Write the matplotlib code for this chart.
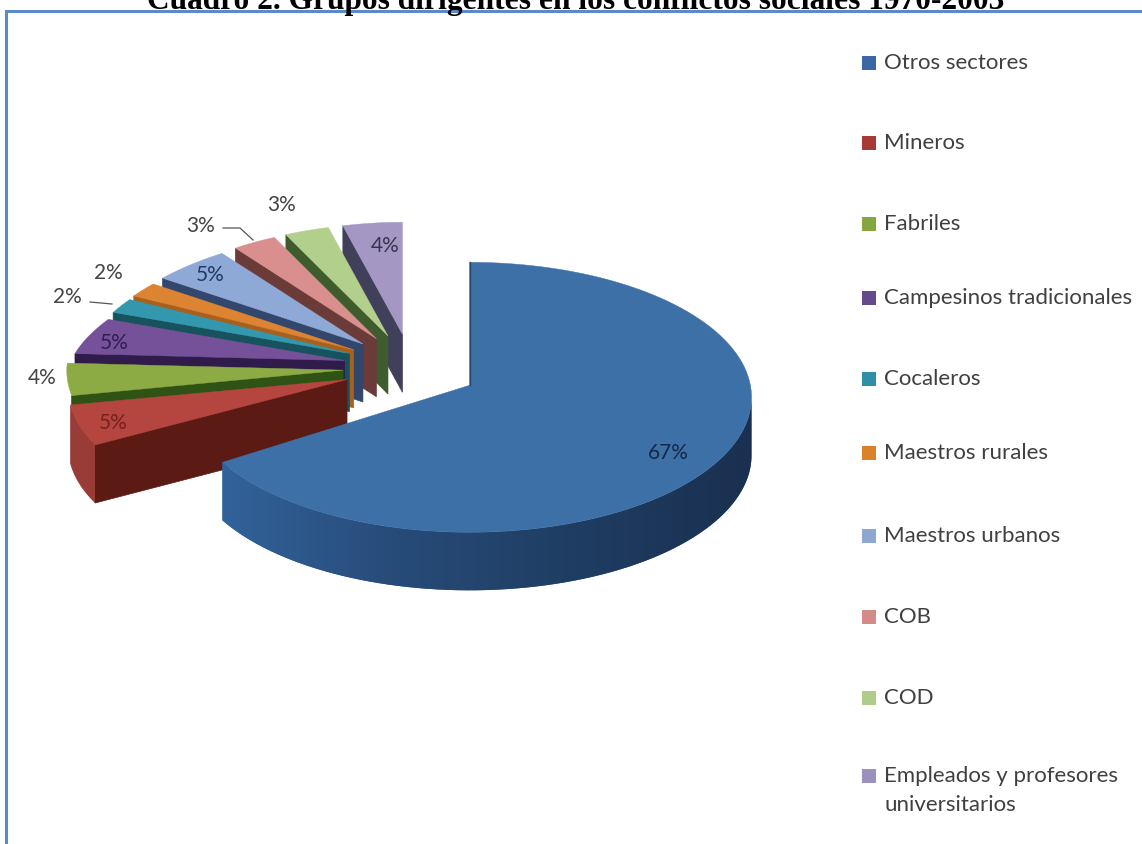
import numpy as np
import matplotlib
matplotlib.use('Agg')
import matplotlib.pyplot as plt
from matplotlib.colors import LinearSegmentedColormap
from matplotlib.patches import Polygon, Rectangle

# datos del cuadro
sectores = ['Otros sectores', 'Mineros', 'Fabriles', 'Campesinos tradicionales', 'Cocaleros',
            'Maestros rurales', 'Maestros urbanos', 'COB', 'COD',
            'Empleados y profesores\nuniversitarios']
porcentajes = [67, 5, 4, 5, 2, 2, 5, 3, 3, 4]
etiquetas = ['67%', '5%', '4%', '5%', '2%', '2%', '5%', '3%', '3%', '4%']

colores = ['#3e70a8', '#b4453f', '#8cab45', '#75519a', '#3398ae', '#dd8432', '#8fa9d6', '#d98f8d', '#b3cf8c', '#a597c4']
colores_corte = ['#24466f', '#5c1a14', '#2e5314', '#2f1c4a', '#17525f', '#a8601f', '#33466c', '#6a3b38', '#3f5c2e', '#41405a']
colores_leyenda = ['#3c67a6', '#a83a36', '#86a63f', '#66488c', '#2f8fa6', '#d9822b', '#8ea6d2', '#d48a88', '#b0cc8a', '#9c90bc']
colores_texto = ['#14284a', '#7a1f1f', '#444444', '#2f1e50', '#444444', '#444444', '#1f3a6a', '#444444', '#444444', '#35354f']

# posicion de los rotulos y de la leyenda en pixeles
pos_etiquetas = [(668, 453), (113, 423), (42, 378), (114, 343), (67, 297),
                 (108, 273), (210, 275), (201, 226), (282, 205), (385, 246)]
y_leyenda = [63, 143, 224, 298, 379, 453, 536, 617, 698, 776]

# geometria del pastel 3D
cx, cy = 411, 368
rx = 282
expl = 68
k = 0.5
alto = 58


def borde(t, x0, y0, i):
    # punto del borde exterior; la perspectiva achica lo que queda atras
    t = np.asarray(t, dtype=float)
    rad = np.radians(t)
    if i == 0:
        return x0 + rx * np.cos(rad), y0 + 12 - 135 * np.sin(rad)
    s = np.interp(t % 360, [90, 126, 158, 177, 191, 209], [0.85, 0.85, 0.9, 0.96, 1, 1.02])
    if i == 2:
        s = 0.98
    ry = np.where(np.sin(rad) > 0, 112, 136)
    return x0 + rx * s * np.cos(rad), y0 - ry * np.sin(rad)


fig = plt.figure(figsize=(11.42, 8.44), dpi=100)
ax = fig.add_axes([0, 0, 1, 1])

# recuadro azul, abierto a la derecha y abajo
ax.plot([6, 6, 1142], [844, 11, 11], color='#5b8bc6', lw=2.2, solid_joinstyle='miter', zorder=1)

ax.text(576, 9, 'Cuadro 2. Grupos dirigentes en los conflictos sociales 1970-2003', ha='center', va='baseline',
        family='Liberation Serif', weight='bold', fontsize=22.6, color='black', zorder=50)

# angulos: empieza arriba y gira en sentido horario
fin = 90 - np.cumsum(porcentajes) * 3.6
ini = np.r_[90, fin[:-1]]
# de atras hacia adelante
orden = list(range(len(porcentajes) - 1, 0, -1)) + [0]
z = 5
for i in orden:
    a_fin, a_ini = fin[i], ini[i]
    med = np.radians((a_fin + a_ini) / 2)
    x0 = cx + expl * np.cos(med)
    y0 = cy - expl * k * np.sin(med)

    t = np.linspace(a_ini, a_fin, 120)
    xs, ys = borde(t, x0, y0, i)

    # cara de corte del lado inferior
    if i != 0:
        xc, yc = borde(a_ini, x0, y0, i)
        ax.add_patch(Polygon([(x0, y0), (xc, yc), (xc, yc + alto), (x0, y0 + alto)],
                             fc=colores_corte[i], ec=colores_corte[i], lw=0.5, zorder=z))
        z += 1

    # costado curvo, solo la parte de adelante (Fabriles queda tapado por Mineros)
    vis = np.sin(np.radians(t)) < 0.02
    if i < 2:
        xv, yv = xs[vis], ys[vis]
        costado = Polygon(np.c_[np.r_[xv, xv[::-1]], np.r_[yv, (yv + alto)[::-1]]],
                          fc=tuple(np.array(matplotlib.colors.to_rgb(colores[i])) * 0.85), ec='none', zorder=z)
        ax.add_patch(costado)
        if i == 0:
            # el costado del sector grande se oscurece hacia la derecha
            grad = LinearSegmentedColormap.from_list('lado', ['#32629a', '#274b78', '#1f3d62', '#1a3050'])
            img = ax.imshow(np.linspace(0, 1, 256)[None, :], cmap=grad, extent=(xv.min(), xv.max(), 700, 300),
                            aspect='auto', zorder=z + 0.5)
            img.set_clip_path(costado)
        z += 1

    # cara superior
    ax.add_patch(Polygon(np.c_[np.r_[x0, xs], np.r_[y0, ys]], fc=colores[i], ec=colores[i], lw=0.3, zorder=z))
    z += 1
    if i == 0:
        ax.plot([x0, x0], [y0, ys[0]], color='#24466f', lw=1.0, zorder=z)

for (x, y), txt, c in zip(pos_etiquetas, etiquetas, colores_texto):
    ax.text(x, y, txt, ha='center', va='center', family='Lato', fontsize=15, color=c, zorder=40)

# lineas guia de los rotulos chicos
ax.plot([90, 112], [302, 304], color='#555555', lw=0.9, zorder=40)
ax.plot([223, 240, 253], [228, 228, 240], color='#555555', lw=0.9, zorder=40)

# leyenda
for nombre, c, y in zip(sectores, colores_leyenda, y_leyenda):
    ax.add_patch(Rectangle((862, y - 7), 14, 14, fc=c, ec='none', zorder=40))
    ax.text(884, y - 10, nombre, ha='left', va='top', family='Lato', fontsize=16, color='#404040',
            linespacing=1.55, zorder=40)

ax.set_xlim(0, 1142)
ax.set_ylim(844, 0)
ax.axis('off')

fig.savefig('out.png', dpi=100)
